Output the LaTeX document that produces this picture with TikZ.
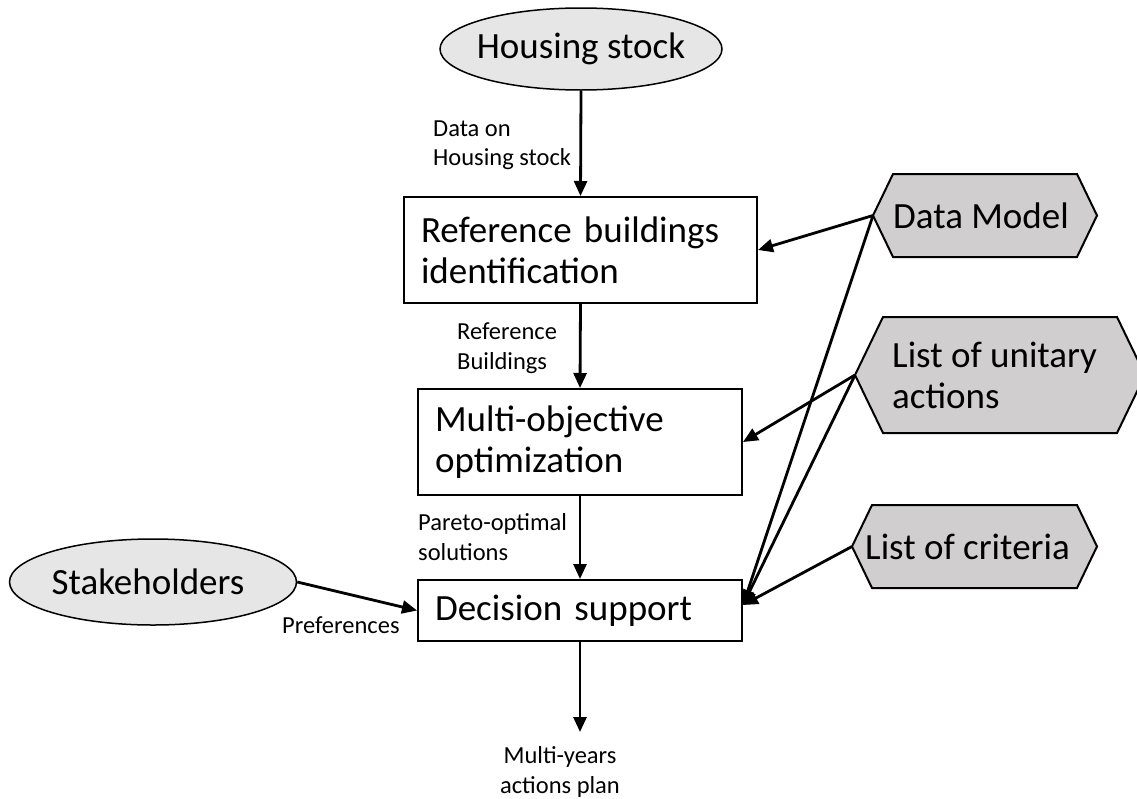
\documentclass[tikz,border=0pt]{standalone}
\usepackage{fontspec}
\setmainfont{Carlito}
\usetikzlibrary{shapes.geometric,arrows.meta,backgrounds}
\definecolor{ellfill}{HTML}{E7E6E6}
\definecolor{hexfill}{HTML}{D0CECE}
\tikzset{
  big/.style={font=\fontsize{37}{41}\selectfont},
  small/.style={font=\fontsize{24.5}{29.5}\selectfont},
  ell/.style={ellipse, draw, line width=1.5pt, fill=ellfill, big, inner sep=0pt},
  procbox/.style={draw, line width=2pt, big, align=left, inner xsep=17pt, inner ysep=0pt},
  hexshape/.style={draw, line width=2pt, fill=hexfill, line join=miter},
  hextext/.style={big, align=left, inner sep=0pt, anchor=west},
  lbl/.style={small, inner sep=0pt},
  arr/.style={line width=2.8pt, -{Triangle[length=15pt,width=13pt]}},
}
\begin{document}
\begin{tikzpicture}[x=1pt,y=-1pt]
\useasboundingbox (0,0) rectangle (1137,798);
% ellipses
\node[ell, minimum width=282pt, minimum height=82pt] (hs) at (581,49) {};
\node[big, inner sep=0pt] (hst) at (hs.center) {Housing stock};
\node[ell, minimum width=287pt, minimum height=86pt] (sh) at (153,582) {};
\node[big, inner sep=0pt] (sht) at (148,582) {Stakeholders};
% process boxes
\node[procbox, text width=319pt, minimum height=106pt] (rb) at (580.5,250) {Reference buildings\\identification};
\node[procbox, text width=290pt, minimum height=106pt] (mo) at (580,442) {Multi-objective\\optimization};
\node[procbox, text width=290pt, minimum height=61pt] (ds) at (580,610.5) {Decision support};
% hexagons
\draw[hexshape] (873,215.5) -- (893,174) -- (1077,174) -- (1097,215.5) -- (1077,257) -- (893,257) -- cycle;
\draw[hexshape] (855,375) -- (883,317) -- (1117,317) -- (1145,375) -- (1117,433) -- (883,433) -- cycle;
\draw[hexshape] (852,546.5) -- (872,505) -- (1077,505) -- (1097,546.5) -- (1077,588) -- (872,588) -- cycle;
\node[hextext] (dm) at (893,215.5) {Data Model};
\node[hextext] (ua) at (892,375) {List of unitary\\actions};
\node[hextext] (lc) at (865,546.5) {List of criteria};
\coordinate (dmtip) at (873,215.5);
\coordinate (uatip) at (855,375);
\coordinate (lctip) at (852,546.5);
% labels
\node[lbl, align=left, anchor=west] (l1) at (433,145) {Data on\\Housing stock};
\node[lbl, align=left, anchor=west] (l2) at (457,348) {Reference\\Buildings};
\node[lbl, align=left, anchor=west] (l3) at (418,537) {Pareto-optimal\\solutions};
\node[lbl, anchor=west] (l4) at (282,625) {Preferences};
\node[lbl, align=center] (l5) at (560,772) {Multi-years\\actions plan};
\coordinate (outend) at (580,732);
% connectors
\draw[arr] (hs.south) -- (rb.north);
\draw[arr] (rb.south) -- (mo.north);
\draw[arr] (mo.south) -- (ds.north);
\draw[arr] (ds.south) -- (outend);
\draw[arr] (sh.east) -- (ds.west);
\draw[arr] (dmtip) -- (rb.east);
\draw[arr] (dmtip) -- ([yshift=5.5pt]ds.east);
\draw[arr] (uatip) -- (mo.east);
\draw[arr] (uatip) -- ([yshift=5.5pt]ds.east);
\draw[arr] (lctip) -- ([yshift=5.5pt]ds.east);
\end{tikzpicture}
\end{document}
